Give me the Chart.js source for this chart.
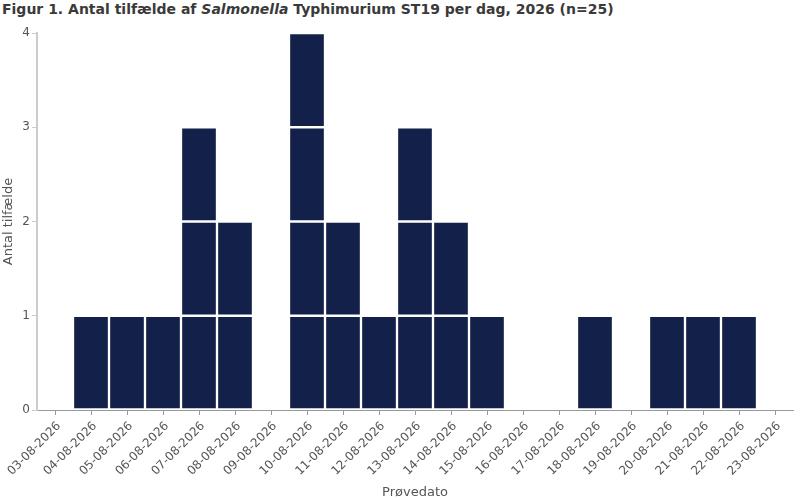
<!DOCTYPE html>
<html>
<head>
<meta charset="utf-8">
<script src="https://cdn.jsdelivr.net/npm/chart.js@4"></script>
<style>
  html, body { margin:0; padding:0; background:#fff; }
  #wrap { position:relative; width:800px; height:500px; }
  #title { position:absolute; left:2px; top:1px; font-family:"DejaVu Sans", sans-serif; font-weight:bold; font-size:14px; color:#3a3a3a; white-space:nowrap; }
  canvas { position:absolute; left:0; top:0; }
</style>
</head>
<body>
<div id="wrap">
  <div id="title">Figur 1. Antal tilfælde af <i>Salmonella</i> Typhimurium ST19 per dag, 2026 (n=25)</div>
  <canvas id="c" width="800" height="500"></canvas>
</div>
<script>
const dates = ["03-08-2026","04-08-2026","05-08-2026","06-08-2026","07-08-2026","08-08-2026","09-08-2026","10-08-2026","11-08-2026","12-08-2026","13-08-2026","14-08-2026","15-08-2026","16-08-2026","17-08-2026","18-08-2026","19-08-2026","20-08-2026","21-08-2026","22-08-2026","23-08-2026"];
const cases = [0,1,1,1,3,2,0,4,2,1,3,2,1,0,0,1,0,1,1,1,0];
const yTicks = [0,1,2,3,4];
const xTitle = "Prøvedato";
const yTitle = "Antal tilfælde";

const maxLayer = Math.max(...cases);
const datasets = [];
for (let k = 1; k <= maxLayer; k++) {
  datasets.push({
    label: "Tilfælde " + k,
    data: cases.map(c => c >= k ? 1 : null),
    backgroundColor: "#13214a",
    borderColor: "#ffffff",
    borderWidth: 1.5,
    borderSkipped: false,
    barPercentage: 1,
    categoryPercentage: 1
  });
}
const font = { family: "DejaVu Sans", size: 12 };
new Chart(document.getElementById("c"), {
  type: "bar",
  data: { labels: dates, datasets },
  options: {
    responsive: false,
    animation: false,
    devicePixelRatio: 1,
    layout: { padding: { top: 33, right: 7, left: 0, bottom: 0 } },
    plugins: { legend: { display: false }, tooltip: { enabled: false }, title: { display: false } },
    scales: {
      x: {
        stacked: true,
        offset: true,
        grid: { display: true, drawOnChartArea: false, tickLength: 5, color: "#999", offset: false },
        border: { color: "#999", width: 1 },
        ticks: { color: "#555", font, minRotation: 45, maxRotation: 45, padding: 4, labelOffset: 4, autoSkip: false },
        title: { display: true, text: xTitle, color: "#555", font: { family: "DejaVu Sans", size: 13 }, padding: { top: 4, bottom: 0 } },
        afterFit: s => { s.height = 90; }
      },
      y: {
        stacked: true,
        min: 0, max: 4,
        afterBuildTicks: s => { s.ticks = yTicks.map(v => ({ value: v })); },
        grid: { display: true, drawOnChartArea: false, tickLength: 5, color: "#ccc" },
        border: { color: "#ccc", width: 2 },
        ticks: { color: "#555", font, padding: 2 },
        title: { display: true, text: yTitle, color: "#555", font: { family: "DejaVu Sans", size: 13 }, padding: { top: 1, bottom: 2 } },
        afterFit: s => { s.width = 37; }
      }
    }
  }
});
</script>
</body>
</html>
